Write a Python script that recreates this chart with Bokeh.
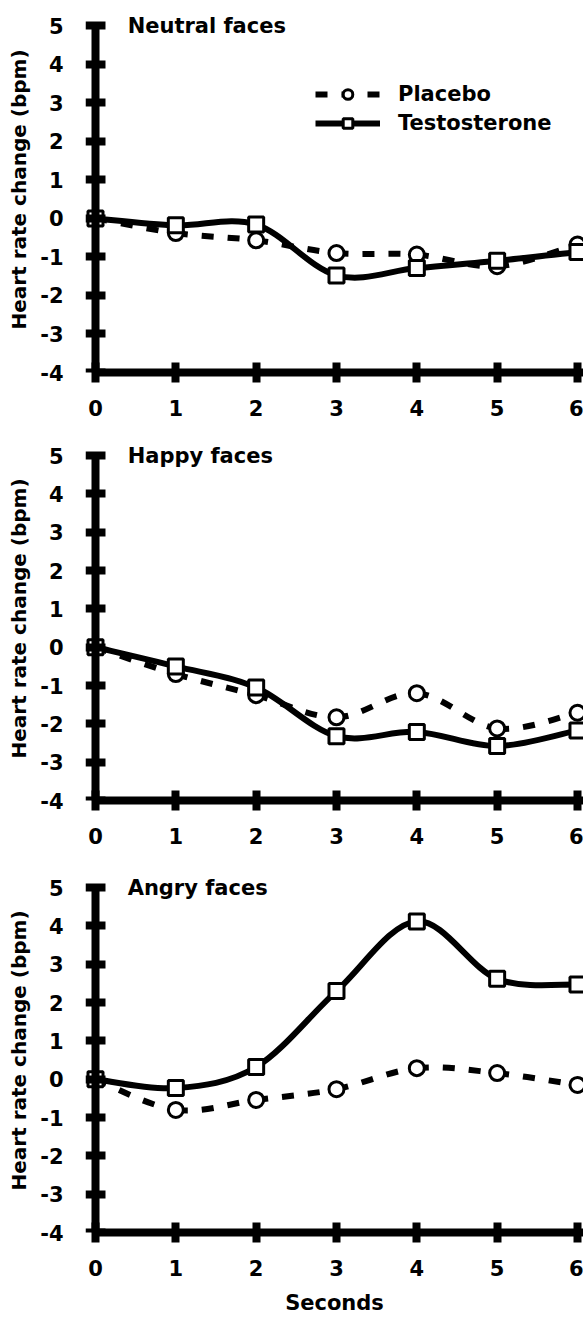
from bokeh.plotting import figure
from bokeh.layouts import column
from bokeh.models import (Range1d, LinearAxis, FixedTicker, Legend, LegendItem,
                          Label, ColumnDataSource, CustomJSTickFormatter)
from bokeh.embed import file_html
from bokeh.resources import INLINE

# ---------------- data ----------------
seconds = [0, 1, 2, 3, 4, 5, 6]
y_ticks = [-4, -3, -2, -1, 0, 1, 2, 3, 4, 5]
panel_titles = ["Neutral faces", "Happy faces", "Angry faces"]
series_names = ["Placebo", "Testosterone"]

placebo_neutral = [0.0, -0.38, -0.57, -0.90, -0.94, -1.24, -0.68]
testosterone_neutral = [0.0, -0.18, -0.16, -1.48, -1.29, -1.10, -0.87]

placebo_happy = [0.0, -0.70, -1.25, -1.83, -1.20, -2.12, -1.71]
testosterone_happy = [0.0, -0.50, -1.05, -2.32, -2.21, -2.58, -2.17]

placebo_angry = [0.0, -0.80, -0.54, -0.26, 0.29, 0.16, -0.15]
testosterone_angry = [0.0, -0.23, 0.32, 2.30, 4.12, 2.62, 2.47]

FONT = "DejaVu Sans"
FS = "21px"


def smooth_source(xs, ys):
    """Cubic Bezier pieces (Catmull-Rom style control points) between data points."""
    n = len(xs)
    d = dict(x0=[], y0=[], x1=[], y1=[], cx0=[], cy0=[], cx1=[], cy1=[])
    for i in range(n - 1):
        pm = max(i - 1, 0)
        pp = min(i + 2, n - 1)
        d["x0"].append(xs[i]); d["y0"].append(ys[i])
        d["x1"].append(xs[i + 1]); d["y1"].append(ys[i + 1])
        d["cx0"].append(xs[i] + (xs[i + 1] - xs[pm]) / 6.0)
        d["cy0"].append(ys[i] + (ys[i + 1] - ys[pm]) / 6.0)
        d["cx1"].append(xs[i + 1] - (xs[pp] - xs[i]) / 6.0)
        d["cy1"].append(ys[i + 1] - (ys[pp] - ys[i]) / 6.0)
    return ColumnDataSource(d)


def style_axis(ax):
    ax.axis_line_width = 8
    ax.axis_line_color = "black"
    ax.major_tick_line_width = 8
    ax.major_tick_line_color = "black"
    ax.major_tick_in = 10
    ax.major_tick_out = 10
    ax.minor_tick_line_color = None
    ax.major_label_text_font = FONT
    ax.major_label_text_font_size = FS
    ax.major_label_text_font_style = "bold"
    ax.major_label_text_color = "black"
    ax.axis_label_text_font = FONT
    ax.axis_label_text_font_style = "bold"
    ax.axis_label_text_color = "black"


def make_panel(title, placebo, testo, top, frame_h, bottom, show_legend, xlabel):
    p = figure(frame_width=498, frame_height=frame_h,
               x_range=Range1d(-0.1245, 6.075), y_range=Range1d(-4, 5.5),
               x_axis_type=None, y_axis_type=None,
               output_backend="svg", toolbar_location=None,
               min_border_left=85, min_border_right=0,
               min_border_top=top, min_border_bottom=bottom)
    p.outline_line_color = None
    p.background_fill_color = "white"
    p.border_fill_color = "white"

    # x axis along the frame bottom (y = -4)
    xaxis = LinearAxis(ticker=FixedTicker(ticks=seconds), bounds=(0, 6.075))
    style_axis(xaxis)
    xaxis.major_label_standoff = 17
    if xlabel:
        xaxis.axis_label = xlabel
        xaxis.axis_label_text_font_size = FS
        xaxis.axis_label_standoff = 12
    p.add_layout(xaxis, "below")

    # y axis labels + title (at the frame edge, no line/ticks)
    ylab = LinearAxis(ticker=FixedTicker(ticks=y_ticks), bounds=(-4, 5),
                      axis_label="Heart rate change (bpm)",
                      formatter=CustomJSTickFormatter(code="return String(tick)"))
    style_axis(ylab)
    ylab.axis_line_color = None
    ylab.major_tick_line_color = None
    ylab.major_tick_in = 0
    ylab.major_tick_out = 0
    ylab.major_label_standoff = 22
    ylab.axis_label_text_font_size = "20px"
    ylab.axis_label_standoff = 6
    p.add_layout(ylab, "left")

    # y axis line + ticks drawn at x = 0
    yline = LinearAxis(ticker=FixedTicker(ticks=y_ticks), bounds=(-4, 5),
                       fixed_location=0,
                       formatter=CustomJSTickFormatter(code="return ''"))
    style_axis(yline)
    p.add_layout(yline, "left")

    bz_p = p.bezier(x0="x0", y0="y0", x1="x1", y1="y1", cx0="cx0", cy0="cy0",
                    cx1="cx1", cy1="cy1", source=smooth_source(seconds, placebo),
                    line_color="black", line_width=6, line_dash="12 14")
    bz_t = p.bezier(x0="x0", y0="y0", x1="x1", y1="y1", cx0="cx0", cy0="cy0",
                    cx1="cx1", cy1="cy1", source=smooth_source(seconds, testo),
                    line_color="black", line_width=6)
    sc_p = p.scatter(seconds, placebo, marker="circle", size=15,
                     fill_color="white", line_color="black", line_width=3)
    sc_t = p.scatter(seconds, testo, marker="square", size=15,
                     fill_color="white", line_color="black", line_width=3)

    p.add_layout(Label(x=0.4, y=5, text=title, text_baseline="middle",
                       text_font=FONT, text_font_size=FS, text_font_style="bold",
                       text_color="black"))

    if show_legend:
        legend = Legend(items=[LegendItem(label=series_names[0], renderers=[bz_p, sc_p]),
                               LegendItem(label=series_names[1], renderers=[bz_t, sc_t])],
                        location=(230, 237), glyph_width=65, glyph_height=24,
                        label_height=24, label_standoff=18, spacing=5,
                        padding=0, margin=0, border_line_color=None,
                        background_fill_alpha=0,
                        label_text_font=FONT, label_text_font_size=FS,
                        label_text_font_style="bold", label_text_color="black")
        p.add_layout(legend)
    return p


p1 = make_panel(panel_titles[0], placebo_neutral, testosterone_neutral, 6, 366, 64, True, None)
p2 = make_panel(panel_titles[1], placebo_happy, testosterone_happy, 0, 364, 68, False, None)
p3 = make_panel(panel_titles[2], placebo_angry, testosterone_angry, 0, 364, 87, False, "Seconds")

layout = column(p1, p2, p3, spacing=0)
open("out.html", "w").write(file_html(layout, INLINE))
